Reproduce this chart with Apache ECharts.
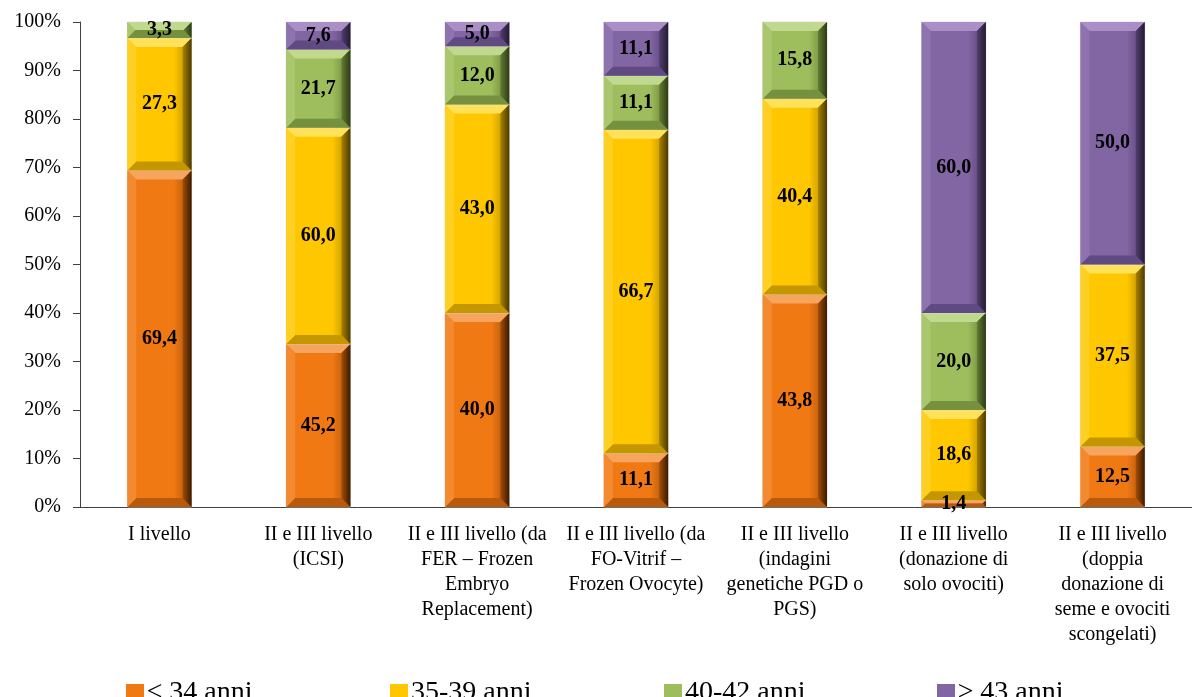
<!DOCTYPE html>
<html>
<head>
<meta charset="utf-8">
<script src="https://cdn.jsdelivr.net/npm/echarts@6/dist/echarts.min.js"></script>
<style>
  html, body { margin: 0; padding: 0; background: #fff; }
  #chart { width: 1192px; height: 697px; }
</style>
</head>
<body>
<div id="chart"></div>
<script>
// Categories (tipologia di centro / tecnica)
const categories = [
  'I livello',
  'II e III livello\n(ICSI)',
  'II e III livello (da\nFER – Frozen\nEmbryo\nReplacement)',
  'II e III livello (da\nFO-Vitrif –\nFrozen Ovocyte)',
  'II e III livello\n(indagini\ngenetiche PGD o\nPGS)',
  'II e III livello\n(donazione di\nsolo ovociti)',
  'II e III livello\n(doppia\ndonazione di\nseme e ovociti\nscongelati)'
];

// Age classes
const ageGroups = ['≤ 34 anni', '35-39 anni', '40-42 anni', '≥ 43 anni'];

// Values per age class, one per category
const age34 = [69.4, 45.2, 40.0, 11.1, 43.8, 1.4, 12.5];
const age35to39 = [27.3, 60.0, 43.0, 66.7, 40.4, 18.6, 37.5];
const age40to42 = [3.3, 21.7, 12.0, 11.1, 15.8, 20.0, 0];
const age43 = [0, 7.6, 5.0, 11.1, 0, 60.0, 50.0];

const yTicks = [0, 10, 20, 30, 40, 50, 60, 70, 80, 90, 100];

const seriesValues = [age34, age35to39, age40to42, age43];

// Bevelled face shades for each age class
const palettes = [
  { base: '#F07914', top: '#F6A45E', left: '#F38A30', bottom: '#B8590C', rIn: '#A34E08', rOut: '#3C1A00' },
  { base: '#FFC700', top: '#FFE15A', left: '#FFD024', bottom: '#C49600', rIn: '#A88200', rOut: '#4C3A00' },
  { base: '#9EBD5D', top: '#C0D98F', left: '#AAC76E', bottom: '#76913E', rIn: '#637C32', rOut: '#2D3B15' },
  { base: '#8265A3', top: '#A98FC6', left: '#8E74AF', bottom: '#604A82', rIn: '#523E70', rOut: '#241A33' }
];

// 100% stacking: each category is normalised to its own total
const totals = categories.map((_, i) => seriesValues.reduce((s, arr) => s + arr[i], 0));
const starts = categories.map(() => 0);
const stackedData = seriesValues.map(arr => {
  const out = [];
  arr.forEach((v, i) => {
    const share = v / totals[i] * 100;
    if (v > 0) out.push([i, starts[i], starts[i] + share, v]);
    starts[i] += share;
  });
  return out;
});

const FONT = '"Liberation Serif", "DejaVu Serif", serif';

function fmt(v) { return v.toFixed(1).replace('.', ','); }

function makeRender(pal) {
  return function (params, api) {
    const idx = api.value(0);
    const pb = api.coord([idx, api.value(1)]);
    const pt = api.coord([idx, api.value(2)]);
    const w = api.size([1, 0])[0] * 0.405;
    const x0 = pb[0] - w / 2, x1 = pb[0] + w / 2;
    const y0 = pt[1], y1 = pb[1];
    const h = y1 - y0;
    const b = Math.max(0, Math.min(9, h / 2, w / 2));
    const label = fmt(api.value(3));
    return {
      type: 'group',
      children: [
        { type: 'rect', shape: { x: x0, y: y0, width: w, height: h },
          style: { fill: {
            type: 'linear', x: 0, y: 0, x2: 1, y2: 0,
            colorStops: [{ offset: 0, color: pal.base }, { offset: 0.72, color: pal.base }, { offset: 1, color: pal.rIn }]
          }, stroke: '#D8D8D8', lineWidth: 0.6 } },
        { type: 'polygon', shape: { points: [[x0, y0], [x1, y0], [x1 - b, y0 + b], [x0 + b, y0 + b]] },
          style: { fill: pal.top } },
        { type: 'polygon', shape: { points: [[x0, y1], [x1, y1], [x1 - b, y1 - b], [x0 + b, y1 - b]] },
          style: { fill: pal.bottom } },
        { type: 'polygon', shape: { points: [[x0, y0], [x0 + b, y0 + b], [x0 + b, y1 - b], [x0, y1]] },
          style: { fill: pal.left } },
        { type: 'polygon', shape: { points: [[x1, y0], [x1 - b, y0 + b], [x1 - b, y1 - b], [x1, y1]] },
          style: { fill: {
            type: 'linear', x: 0, y: 0, x2: 1, y2: 0,
            colorStops: [{ offset: 0, color: pal.rIn }, { offset: 1, color: pal.rOut }]
          } } },
        { type: 'text', z2: 10,
          style: { text: label, x: pb[0], y: (y0 + y1) / 2, align: 'center', verticalAlign: 'middle',
                   font: 'bold 20px ' + FONT, fill: '#000' } }
      ]
    };
  };
}

const legendLeft = [121, 385, 659, 932];

const chart = echarts.init(document.getElementById('chart'), null, { renderer: 'canvas' });
chart.setOption({
  animation: false,
  backgroundColor: '#fff',
  grid: { left: 80, top: 22, width: 1120, height: 485, containLabel: false },
  legend: ageGroups.map((name, i) => ({
    data: [name],
    left: legendLeft[i],
    top: 674,
    icon: 'rect',
    itemWidth: 18,
    itemHeight: 18,
    itemGap: 6,
    textStyle: { fontFamily: FONT, fontSize: 28, color: '#000', padding: [0, 0, 0, -2] }
  })),
  xAxis: {
    type: 'category',
    data: categories,
    axisLine: { lineStyle: { color: '#404040', width: 1 } },
    axisTick: { length: 6, lineStyle: { color: '#404040' } },
    axisLabel: {
      interval: 0, margin: 15,
      fontFamily: FONT, fontSize: 20, lineHeight: 25, color: '#000', align: 'center'
    },
    splitLine: { show: false }
  },
  yAxis: {
    type: 'value',
    min: yTicks[0],
    max: yTicks[yTicks.length - 1],
    interval: 10,
    axisLine: { show: true, lineStyle: { color: '#404040', width: 1 } },
    axisTick: { show: true, length: 7, lineStyle: { color: '#404040' } },
    axisLabel: { formatter: '{value}%', fontFamily: FONT, fontSize: 20, color: '#000', margin: 19 },
    splitLine: { show: false }
  },
  series: ageGroups.map((name, i) => ({
    name: name,
    type: 'custom',
    renderItem: makeRender(palettes[i]),
    itemStyle: { color: palettes[i].base },
    encode: { x: 0, y: [1, 2] },
    data: stackedData[i],
    z: 3
  }))
});
</script>
</body>
</html>
